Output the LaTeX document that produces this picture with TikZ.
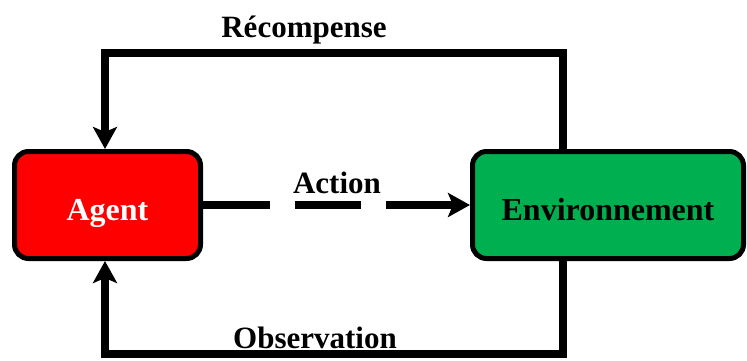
\documentclass[tikz,border=0pt]{standalone}
\usepackage{fontspec}
\setmainfont{Liberation Serif}
\usetikzlibrary{arrows.meta}
\definecolor{agentred}{HTML}{FF0000}
\definecolor{envgreen}{HTML}{00B050}
\tikzset{
  box/.style={draw=black, line width=5pt, rounded corners=14pt, inner sep=0pt,
    minimum height=107pt, text height=30pt, text depth=0pt,
    font=\fontsize{32}{32}\selectfont\bfseries},
  conn/.style={line width=7.5pt, draw=black, line join=miter,
    -{Stealth[length=22pt,width=24pt,inset=5pt]}},
  lbl/.style={anchor=base, inner sep=0pt, font=\fontsize{31}{31}\selectfont\bfseries}
}
\begin{document}
\begin{tikzpicture}[x=1pt,y=-1pt]
  \useasboundingbox (0,0) rectangle (747,360);

  % the two blocks
  \node[box, fill=agentred, text=white, minimum width=186pt] (agent) at (107.5,205) {Agent};
  \node[box, fill=envgreen, text=black, minimum width=271pt] (env) at (608,205) {Environnement};

  % corner points of the feedback loops
  \coordinate (rtop) at (563,53);
  \coordinate (ltop) at (105,53);
  \coordinate (rbot) at (563,354);
  \coordinate (lbot) at (105,354);

  % reward loop over the top
  \draw[conn] (env.north -| rtop) -- (rtop) -- (ltop) -- (agent.north -| ltop);
  % observation loop along the bottom
  \draw[conn] (env.south -| rbot) -- (rbot) -- (lbot) -- (agent.south -| lbot);
  % action, dashed in the middle
  \draw[conn, dash pattern=on 66.5pt off 25pt on 66pt off 25pt on 400pt] (agent.east) -- (env.west);

  % labels
  \node[lbl] (lrec) at (304,37) {Récompense};
  \node[lbl] (lact) at (337,193) {Action};
  \node[lbl] (lobs) at (315,348) {Observation};
\end{tikzpicture}
\end{document}
